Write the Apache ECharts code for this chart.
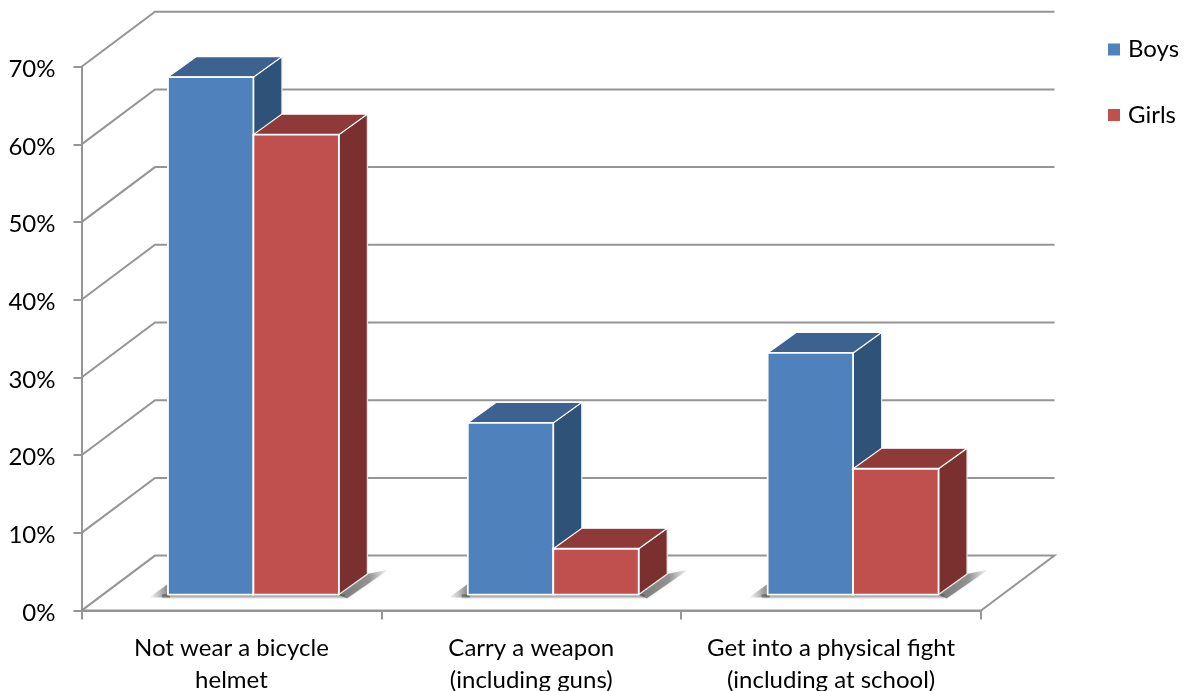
<!DOCTYPE html>
<html><head><meta charset="utf-8">
<style>html,body{margin:0;padding:0;background:#fff}#c{width:1185px;height:691px}</style>
<script src="https://cdn.jsdelivr.net/npm/echarts@6/dist/echarts.min.js"></script>
</head><body><div id="c"></div>
<script>
const categories = ['Not wear a bicycle\nhelmet', 'Carry a weapon\n(including guns)', 'Get into a physical fight\n(including at school)'];
const boys = [66.6, 22.1, 31.1];
const girls = [59.2, 5.9, 16.2];
const ticks = [0, 10, 20, 30, 40, 50, 60, 70];

const WALL_DX = 73.5, WALL_DY = 55;
const BAR_DX = 22, BAR_DY = 16, SIDE_DX = 28.5, SIDE_DY = 20.5, BAR_FRAC = 0.285;
const LINE = '#959595';
const FONT = 'Lato, "Open Sans", sans-serif';

function wallItem(params, api) {
  const v = api.value(0);
  const left = api.coord([0, v]);
  const start = params.coordSys.x, end = params.coordSys.x + params.coordSys.width;
  const y = left[1];
  const children = [];
  if (v === 0) {
    children.push({type: 'polygon', shape: {points: [[start, y], [start + WALL_DX, y - WALL_DY], [end + WALL_DX, y - WALL_DY], [end, y]]},
      style: {fill: '#fff', stroke: LINE, lineWidth: 2}});
  } else {
    children.push({type: 'polyline', shape: {points: [[start, y], [start + WALL_DX, y - WALL_DY], [end + WALL_DX, y - WALL_DY]]},
      style: {fill: null, stroke: LINE, lineWidth: 2}});
  }
  return {type: 'group', children};
}

function shadowItem(params, api) {
  const i = api.value(0);
  const c = api.coord([i, 0]);
  const w = api.size([1, 0])[0] * BAR_FRAC;
  const x0 = c[0] - w + BAR_DX, x1 = c[0] + w + BAR_DX, y = c[1] - BAR_DY;
  const grey = a => 'rgba(80,80,80,' + a + ')';
  return {type: 'group', children: [
    {type: 'polygon', shape: {points: [[x0 - 19, y + 3], [x0 + 2, y + 3], [x0 + 2, y - 12]]},
      style: {fill: {type: 'linear', x: 0, y: 0.5, x2: 1, y2: 0.5, colorStops: [
        {offset: 0, color: grey(0)}, {offset: 1, color: grey(0.75)}]}}},
    {type: 'rect', shape: {x: x0 - 6, y: y, width: x1 - x0 + 12, height: 4.5},
      style: {fill: {type: 'linear', x: 0, y: 0, x2: 0, y2: 1, colorStops: [
        {offset: 0, color: grey(0.8)}, {offset: 1, color: grey(0)}]}}},
    {type: 'polygon', shape: {points: [[x1, y], [x1 + 8, y + 4], [x1 + 50, y - 25], [x1 + SIDE_DX, y - SIDE_DY]]},
      style: {fill: {type: 'linear', x: 0, y: 0.5, x2: 1, y2: 0.5, colorStops: [
        {offset: 0, color: grey(0.7)}, {offset: 0.6, color: grey(0.55)}, {offset: 1, color: grey(0)}]},
        shadowBlur: 3, shadowColor: grey(0.3)}}
  ]};
}

function barItem(side, front, top, dark) {
  return function (params, api) {
    const i = api.value(0);
    const base = api.coord([i, 0]);
    const t = api.coord([i, api.value(1)]);
    const w = api.size([1, 0])[0] * BAR_FRAC;
    const x0 = base[0] + BAR_DX + (side === 0 ? -w : 0), x1 = x0 + w;
    const yb = base[1] - BAR_DY, yt = t[1] - BAR_DY;
    const st = {stroke: '#fff', lineWidth: 1.8, lineJoin: 'round'};
    return {type: 'group', children: [
      {type: 'polygon', shape: {points: [[x1, yb], [x1 + SIDE_DX, yb - SIDE_DY], [x1 + SIDE_DX, yt - SIDE_DY], [x1, yt]]}, style: {fill: dark, stroke: '#e8e8e8', lineWidth: 1.2}},
      {type: 'polygon', shape: {points: [[x0, yt], [x0 + SIDE_DX, yt - SIDE_DY], [x1 + SIDE_DX, yt - SIDE_DY], [x1, yt]]}, style: {fill: top, stroke: '#fff', lineWidth: 1.2}},
      {type: 'rect', shape: {x: x0, y: yt, width: w, height: yb - yt}, style: Object.assign({fill: front}, st)}
    ]};
  };
}

const chart = echarts.init(document.getElementById('c'), null, {renderer: 'canvas'});
chart.setOption({
  animation: false,
  backgroundColor: '#fff',
  grid: {left: 81.5, right: 204, top: 66.7, bottom: 80.4, outerBoundsMode: 'none'},
  legend: {
    data: [{name: 'Boys', icon: 'rect'}, {name: 'Girls', icon: 'rect'}],
    orient: 'vertical', left: 1103, top: 32.5, itemWidth: 12, itemHeight: 12, itemGap: 41.5, selectedMode: false,
    textStyle: {fontFamily: FONT, fontSize: 24, color: '#000', padding: [0, 0, 0, 3]}
  },
  xAxis: {
    type: 'category', data: categories,
    axisLine: {lineStyle: {color: LINE, width: 2}},
    axisTick: {show: true, length: 9, alignWithLabel: false, lineStyle: {color: LINE, width: 2}},
    axisLabel: {fontFamily: FONT, fontSize: 24, color: '#000', margin: 22, lineHeight: 32, interval: 0}
  },
  yAxis: {
    type: 'value', min: 0, max: 70, interval: 10,
    axisLine: {show: true, lineStyle: {color: LINE, width: 2}},
    axisTick: {show: true, length: 8, lineStyle: {color: LINE, width: 2}},
    splitLine: {show: false},
    axisLabel: {color: '#000', margin: 26, formatter: v => '{a|' + v + '%}',
      rich: {a: {fontFamily: FONT, fontSize: 24, color: '#000', padding: [5, 0, 0, 0]}}}
  },
  series: [
    {type: 'custom', name: 'walls', z: 1, silent: true, clip: false, renderItem: wallItem, data: ticks.map(v => [v])},
    {type: 'custom', name: 'shadow', z: 2, silent: true, clip: false, renderItem: shadowItem, data: categories.map((_, i) => [i])},
    {type: 'custom', name: 'Boys', z: 3, clip: false, itemStyle: {color: '#4F81BD'}, renderItem: barItem(0, '#4F81BD', '#3D6290', '#2F5278'), data: boys.map((v, i) => [i, v])},
    {type: 'custom', name: 'Girls', z: 4, clip: false, itemStyle: {color: '#C0504D'}, renderItem: barItem(1, '#C0504D', '#8E3A38', '#7A302F'), data: girls.map((v, i) => [i, v])}
  ]
});
</script></body></html>
